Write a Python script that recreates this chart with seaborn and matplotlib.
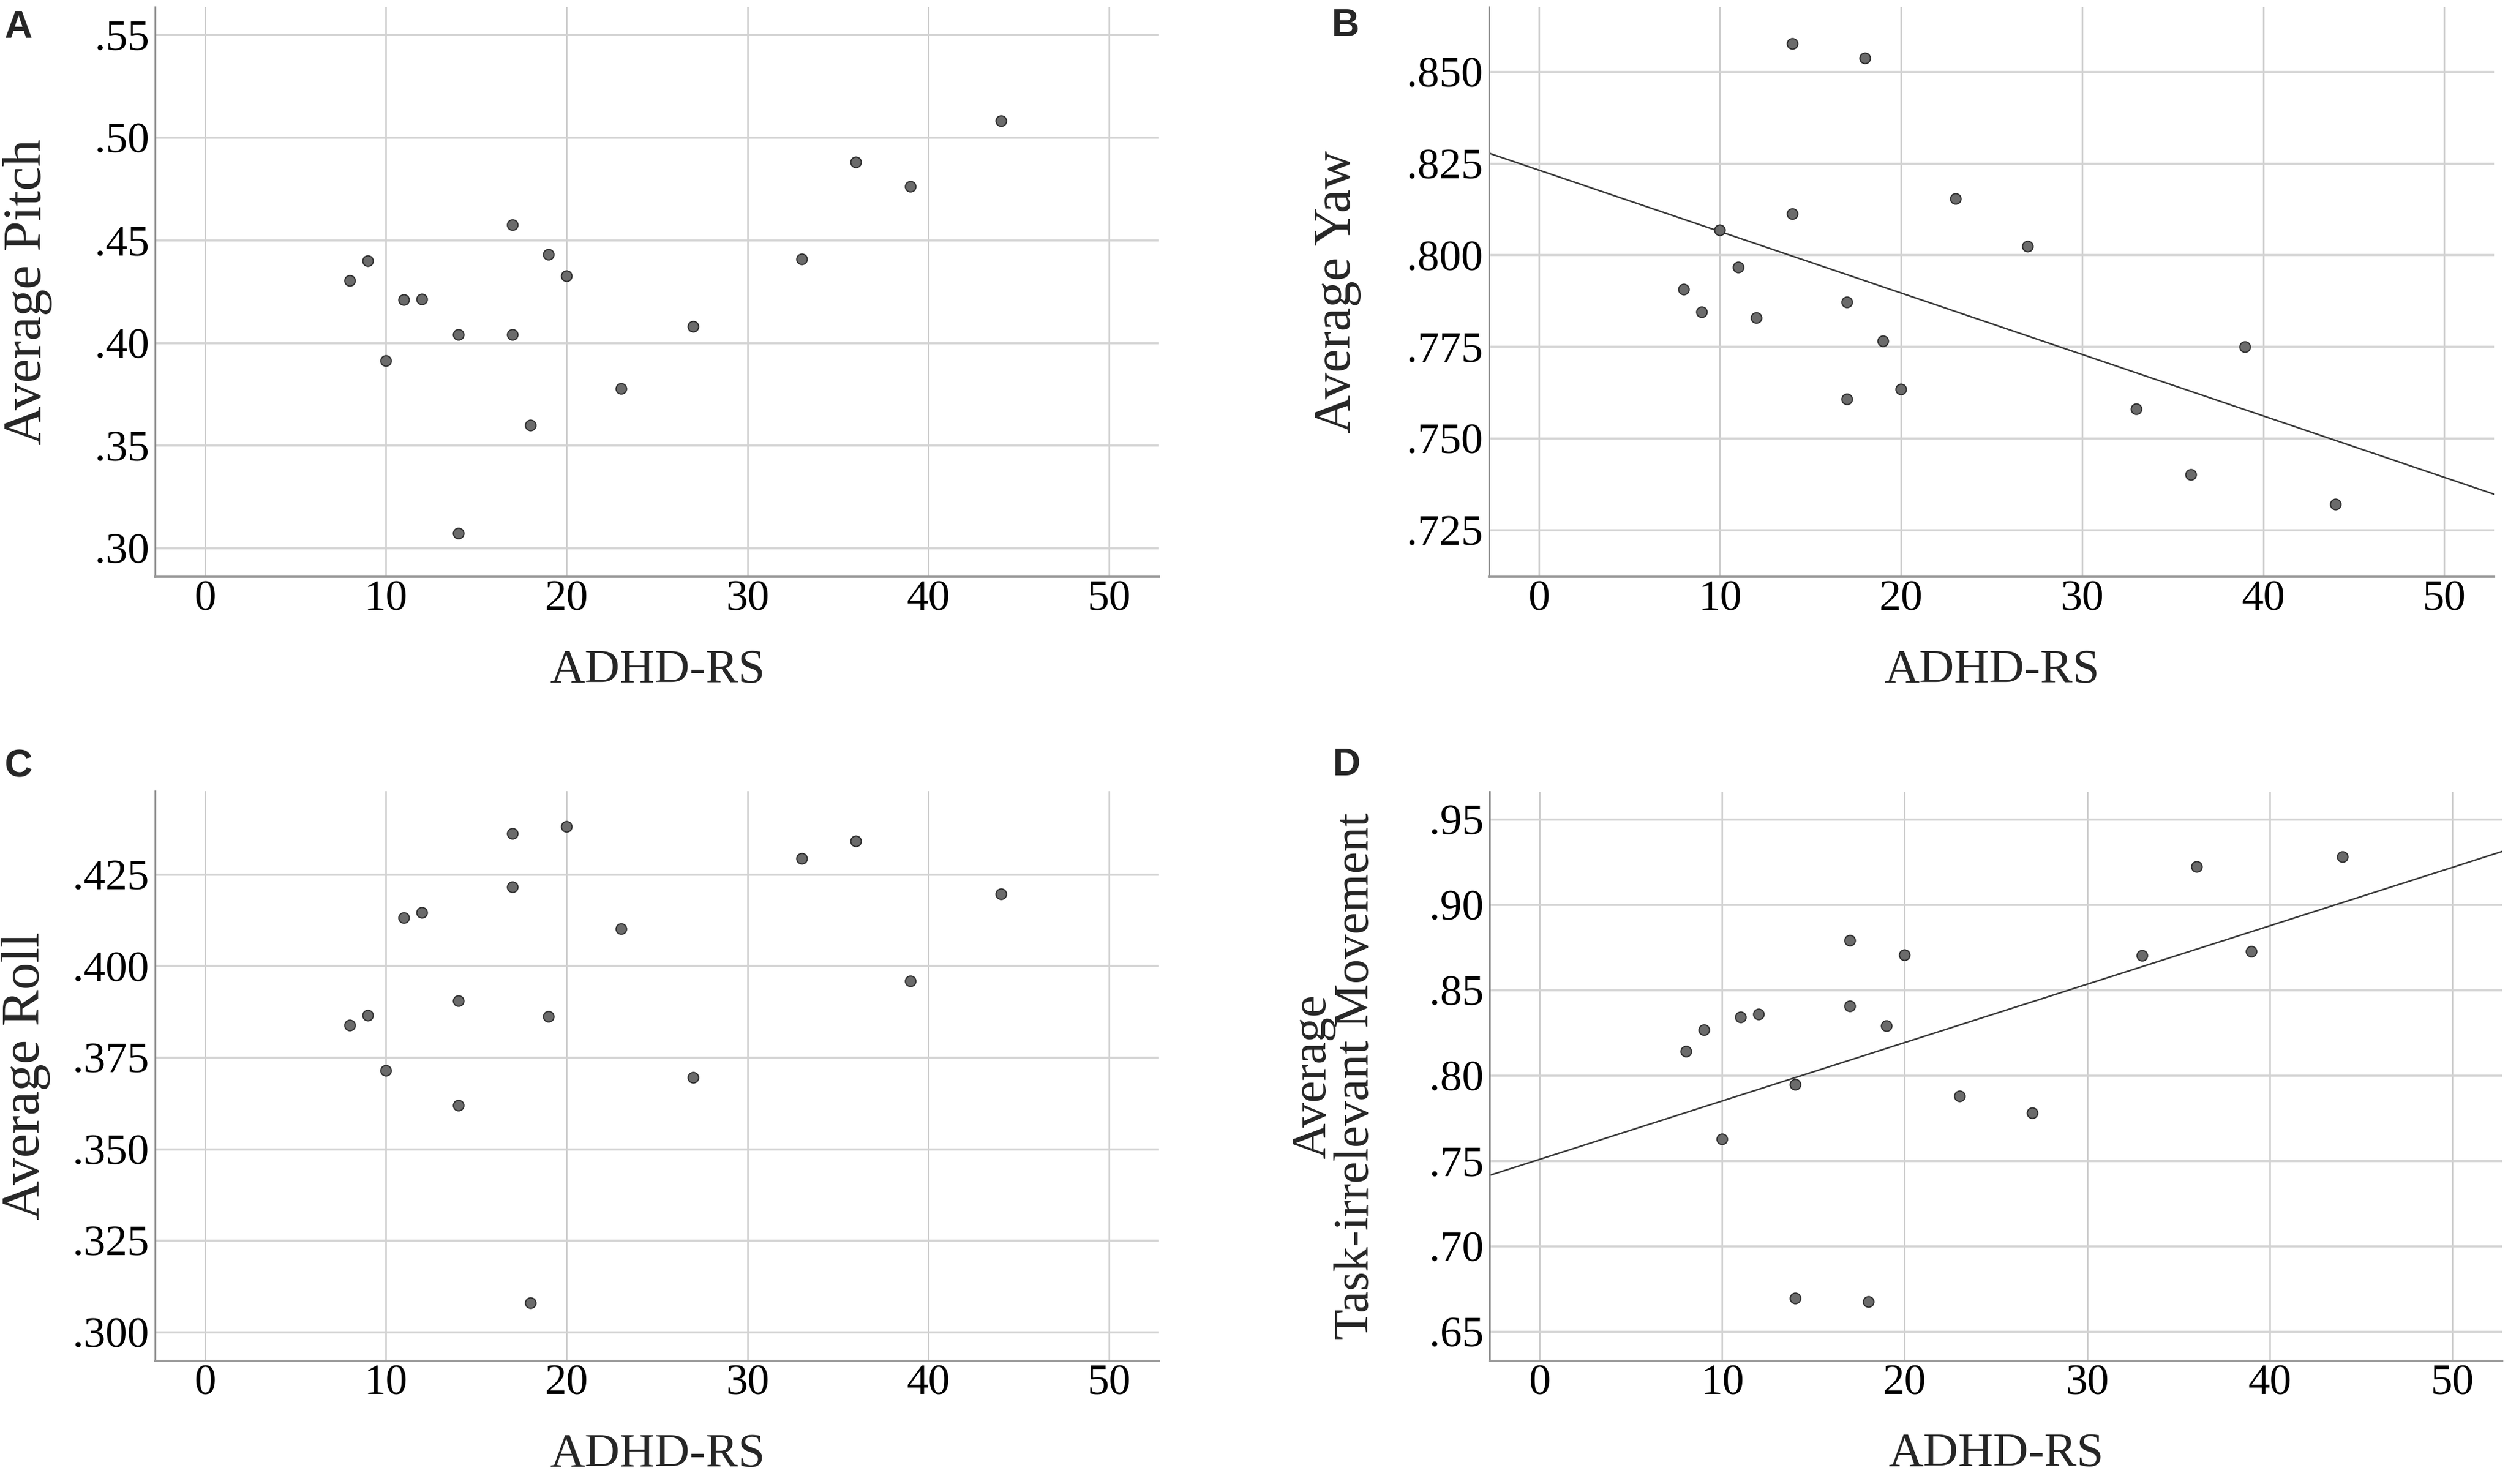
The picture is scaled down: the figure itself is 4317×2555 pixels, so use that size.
import matplotlib
matplotlib.use("Agg")
import matplotlib.pyplot as plt
import seaborn as sns
from matplotlib.ticker import FuncFormatter, FixedLocator

# ---------------- data ----------------
adhd_rs = [8, 9, 10, 11, 12, 14, 14, 17, 17, 18, 19, 20, 23, 27, 33, 36, 39, 44]
avg_pitch = [.4305, .4401, .3913, .4211, .4214, .4042, .3075, .4577, .4042,
             .3601, .4430, .4326, .3779, .4082, .4408, .4880, .4763, .5082]
avg_yaw = [.7907, .7846, .8069, .7968, .7830, .8577, .8113, .7872, .7607,
           .8537, .7766, .7635, .8155, .8025, .7581, .7402, .7750, .7321]
avg_roll = [.3838, .3866, .3715, .4133, .4147, .3905, .3620, .4362, .4216,
            .3080, .3862, .4381, .4102, .3696, .4294, .4341, .3960, .4198]
avg_task_irrelevant = [.8143, .8268, .7630, .8342, .8359, .7950, .6696, .8792, .8409,
                       .6677, .8292, .8708, .7881, .7781, .8703, .9223, .8727, .9281]

x_ticks = [0, 10, 20, 30, 40, 50]
pitch_ticks = [.30, .35, .40, .45, .50, .55]
yaw_ticks = [.725, .750, .775, .800, .825, .850]
roll_ticks = [.300, .325, .350, .375, .400, .425]
task_ticks = [.65, .70, .75, .80, .85, .90, .95]

x_label = "ADHD-RS"
y_labels = ["Average Pitch", "Average Yaw", "Average Roll",
            "Average\nTask-irrelevant Movement"]
panel_letters = ["A", "B", "C", "D"]

# ---------------- figure ----------------
W, H, DPI = 4317, 2555, 300
sns.set_style("white")
plt.rcParams["font.family"] = ["Liberation Serif", "DejaVu Serif"]

fig = plt.figure(figsize=(W / DPI, H / DPI), dpi=DPI)


def add_ax(l, t, r, b):
    return fig.add_axes([l / W, 1 - b / H, (r - l) / W, (b - t) / H])


panels = [
    dict(box=(267, 12, 1995, 993), y=avg_pitch, ylim=(.2862, .5636), ticks=pitch_ticks,
         dec=2, fit=False, letter=(7, 65), ylab_x=-0.127, ylab_fs=22.5),
    dict(box=(2563, 12, 4293, 993), y=avg_yaw, ylim=(.7123, .8677), ticks=yaw_ticks,
         dec=3, fit=True, letter=(2292, 62), ylab_x=-0.151, ylab_fs=22),
    dict(box=(267, 1362, 1995, 2343), y=avg_roll, ylim=(.2922, .4478), ticks=roll_ticks,
         dec=3, fit=False, letter=(7, 1337), ylab_x=-0.129, ylab_fs=22.5),
    dict(box=(2564, 1363, 4307, 2343), y=avg_task_irrelevant, ylim=(.633, .9663),
         ticks=task_ticks, dec=2, fit=True, letter=(2293, 1335), ylab_x=-0.153, ylab_fs=20.5),
]

XLIM = (-2.75, 52.75)

for i, p in enumerate(panels):
    ax = add_ax(*p["box"])
    ax.set_xlim(*XLIM)
    ax.set_ylim(*p["ylim"])

    if p["fit"]:
        sns.regplot(x=adhd_rs, y=p["y"], ax=ax, scatter=False, ci=None, truncate=False,
                    line_kws=dict(color="#3a3a3a", lw=0.65, zorder=2))
    sns.scatterplot(x=adhd_rs, y=p["y"], ax=ax, s=19, color="#6b6b6b",
                    edgecolor="#2e2e2e", linewidth=0.5, zorder=3, legend=False)

    ax.set_xlim(*XLIM)
    ax.set_ylim(*p["ylim"])

    ax.xaxis.set_major_locator(FixedLocator(x_ticks))
    ax.yaxis.set_major_locator(FixedLocator(p["ticks"]))
    dec = p["dec"]
    ax.yaxis.set_major_formatter(FuncFormatter(lambda v, pos, d=dec: f"{v:.{d}f}".lstrip("0")))
    ax.xaxis.set_major_formatter(FuncFormatter(lambda v, pos: f"{v:.0f}"))

    ax.set_axisbelow(True)
    ax.xaxis.grid(True, color="#c8c8c8", lw=0.6)
    ax.yaxis.grid(True, color="#d3d3d3", lw=0.85)

    for s in ("top", "right"):
        ax.spines[s].set_visible(False)
    ax.spines["left"].set_color("#8a8a8a")
    ax.spines["left"].set_linewidth(0.7)
    ax.spines["bottom"].set_color("#9a9a9a")
    ax.spines["bottom"].set_linewidth(0.9)

    ax.tick_params(axis="both", length=0, labelsize=18, colors="black")
    ax.tick_params(axis="x", pad=1.5)
    ax.tick_params(axis="y", pad=2.5)

    ax.set_xlabel(x_label, fontsize=20)
    ax.xaxis.label.set_va("center")
    ax.xaxis.set_label_coords(0.5, -0.165)

    ax.set_ylabel(y_labels[i], fontsize=p["ylab_fs"], linespacing=0.95,
                  multialignment="center")
    ax.yaxis.label.set_va("center")
    ax.yaxis.set_label_coords(p["ylab_x"], 0.5)

    lx, ly = p["letter"]
    fig.text(lx / W, 1 - ly / H, panel_letters[i], fontsize=16, fontweight="bold",
             family=["Liberation Sans", "DejaVu Sans"], ha="left", va="baseline")

fig.savefig("out.png", dpi=DPI)
